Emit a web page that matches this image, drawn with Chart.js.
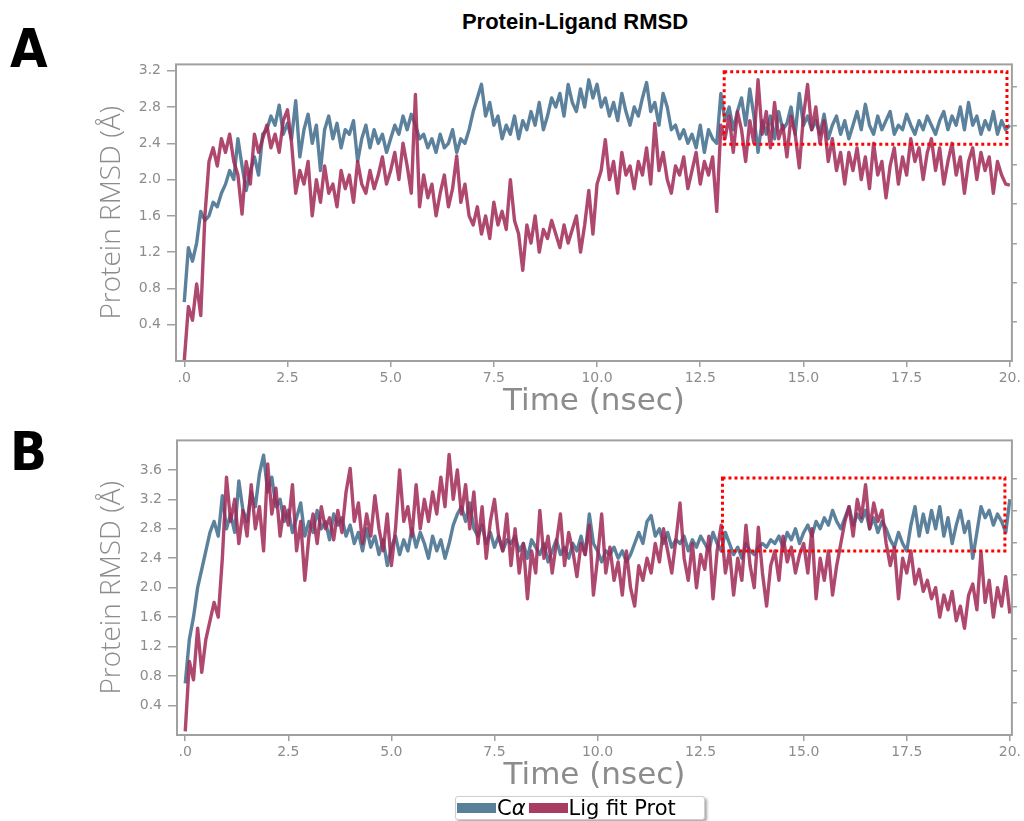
<!DOCTYPE html>
<html>
<head>
<meta charset="utf-8">
<script src="https://cdn.jsdelivr.net/npm/chart.js@4.4.1/dist/chart.umd.min.js"></script>
<style>
    body { margin: 0; background: #fff; width: 1024px; height: 821px; position: relative; overflow: hidden; }
    canvas { position: absolute; left: 0; }
    .panel-letter { position: absolute; left: 10px; font: bold 54px "Liberation Sans Narrow", "DejaVu Sans Condensed", sans-serif; color: #000; line-height: 1; }
    #title { position: absolute; left: 0; width: 1150px; top: 9px; text-align: center; font: bold 22px "Liberation Sans", Arial, sans-serif; color: #000; }
    #legend { position: absolute; left: 455px; top: 796px; height: 24px; width: 250px; box-sizing: border-box; border: 1px solid #cfcfcf; border-radius: 3px; box-shadow: 2px 2px 3px rgba(0,0,0,0.35); background: #fff; display: flex; align-items: center; font: 21px "DejaVu Sans", sans-serif; color: #000; }
    #legend .sw { display: inline-block; width: 39px; height: 10px; margin: 0 1px 0 1px; }
</style>
</head>
<body>
<div id="title">Protein-Ligand RMSD</div>
<div class="panel-letter" style="top:22px">A</div>
<div class="panel-letter" style="top:425px">B</div>
<canvas id="chartA" width="1024" height="370" style="top:50px"></canvas>
<canvas id="chartB" width="1024" height="368" style="top:426px"></canvas>
<div id="legend"><span class="sw" style="background:#5a7f99"></span><span>C<i>α</i></span><span class="sw" style="background:#a83c63;margin-left:3px"></span><span>Lig fit Prot</span></div>
<script>
// RMSD values, one value every 0.1 ns (0 .. 20 ns)
const STEP_NS = 0.1;

const caA = [
    0.65, 1.25, 1.1, 1.3, 1.65, 1.55, 1.6, 1.75, 1.7, 1.85,
    1.95, 2.1, 2.0, 2.45, 2.15, 1.88, 2.1, 2.25, 2.05, 2.5,
    2.55, 2.7, 2.6, 2.82, 2.5, 2.62, 2.45, 2.87, 2.25, 2.55,
    2.72, 2.4, 2.6, 2.1, 2.55, 2.7, 2.45, 2.62, 2.35, 2.55,
    2.5, 2.65, 2.2, 2.45, 2.6, 2.35, 2.55, 2.4, 2.5, 2.3,
    2.45, 2.6, 2.5, 2.7, 2.55, 2.72, 2.6, 2.45, 2.5, 2.35,
    2.45, 2.3, 2.5, 2.35, 2.4, 2.55, 2.3, 2.45, 2.4, 2.55,
    2.75, 2.9, 3.05, 2.7, 2.85, 2.6, 2.7, 2.45, 2.6, 2.5,
    2.7, 2.45, 2.65, 2.55, 2.75, 2.6, 2.85, 2.55, 2.7, 2.9,
    2.8, 2.95, 2.7, 3.05, 2.85, 2.75, 3.0, 2.8, 3.1, 2.9,
    3.05, 2.8, 2.9, 2.7, 2.85, 2.65, 2.95, 2.75, 2.6, 2.8,
    2.7, 2.9, 3.07, 2.75, 2.85, 2.6, 2.95, 2.8, 2.55, 2.6,
    2.45, 2.55, 2.4, 2.5, 2.35, 2.6, 2.3, 2.55, 2.45, 2.4,
    2.95, 2.65, 2.8, 2.55, 2.75, 2.9, 2.6, 3.0, 2.7, 2.3,
    2.65, 2.5, 2.7, 2.45, 2.75, 2.55, 2.62, 2.8, 2.5, 2.95,
    2.6, 2.7, 2.55, 2.65, 2.5, 2.72, 2.45, 2.6, 2.7, 2.5,
    2.65, 2.45, 2.6, 2.75, 2.55, 2.83, 2.6, 2.5, 2.7, 2.55,
    2.65, 2.75, 2.5, 2.6, 2.55, 2.72, 2.6, 2.5, 2.65, 2.55,
    2.7, 2.6, 2.5, 2.65, 2.75, 2.55, 2.7, 2.6, 2.8, 2.55,
    2.85, 2.6, 2.7, 2.5, 2.65, 2.55, 2.75, 2.5, 2.65, 2.55,
    2.6
];

const ligA = [
    0.0, 0.6, 0.45, 0.85, 0.5, 1.6, 2.2, 2.35, 2.15, 2.45,
    2.3, 2.5, 2.2, 2.05, 1.62, 2.2, 1.95, 2.5, 2.3, 2.45,
    2.6, 2.35, 2.5, 2.3, 2.65, 2.77, 2.4, 1.85, 2.1, 1.95,
    2.2, 1.6, 2.0, 1.75, 2.15, 1.85, 1.95, 1.7, 2.1, 1.9,
    2.05, 1.75, 2.2, 1.95, 1.85, 2.1, 1.9, 2.05, 2.25, 1.95,
    2.1, 2.3, 2.0, 2.4, 2.15, 1.85, 2.94, 1.7, 2.05, 1.8,
    1.95, 1.6, 1.85, 2.05, 1.7, 1.9, 2.26, 1.75, 1.95, 1.6,
    1.5, 1.7, 1.4, 1.6, 1.35, 1.75, 1.5, 1.65, 1.45, 2.0,
    1.55, 1.4, 1.0, 1.5, 1.3, 1.6, 1.2, 1.45, 1.35, 1.55,
    1.4, 1.25, 1.5, 1.3, 1.45, 1.6, 1.2, 1.5, 1.88, 1.4,
    1.95, 2.1, 2.44, 2.0, 2.2, 1.85, 2.3, 2.05, 2.15, 1.9,
    2.2, 2.05, 2.35, 1.95, 2.62, 2.1, 2.3, 2.0, 1.85, 2.15,
    2.05, 2.25, 1.9, 2.1, 2.3, 1.95, 2.2, 2.05, 2.25, 1.65,
    2.6, 2.45, 2.7, 2.3, 2.75, 2.55, 2.2, 2.65, 2.4, 3.1,
    2.5, 2.75, 2.35, 2.85, 2.45, 2.6, 2.25, 2.7, 2.5, 2.13,
    2.7, 3.05, 2.55, 2.8, 2.4, 2.65, 2.2, 2.45, 2.1, 2.3,
    1.95, 2.3, 2.1, 2.35, 2.0, 2.25, 1.9, 2.4, 2.05, 2.2,
    1.8, 2.15, 2.35, 1.95, 2.25, 2.05, 2.45, 2.2, 2.35, 2.0,
    2.3, 2.45, 2.1, 2.35, 1.95, 2.2, 2.4, 2.05, 2.25, 1.85,
    2.2, 2.35, 2.0, 2.3, 2.1, 2.25, 1.85, 2.2, 2.05, 1.95,
    1.94
];

const caB = [
    0.7, 1.3, 1.6, 2.0, 2.25, 2.5, 2.75, 2.9, 2.7, 3.25,
    2.8, 3.0, 2.75, 3.45, 3.05, 2.9, 3.3, 3.1, 3.55, 3.8,
    3.3, 3.5, 3.1, 3.2, 2.9, 3.05, 2.75, 2.95, 3.15, 2.7,
    2.9, 2.75, 3.05, 2.8, 2.9, 2.65, 3.0, 2.85, 2.95, 2.7,
    2.85, 2.6, 2.75, 2.5, 2.8, 2.55, 2.7, 2.45, 2.65, 2.3,
    2.55, 2.7, 2.45, 2.65, 2.5, 2.8, 2.55, 2.75, 2.6, 2.4,
    2.7, 2.5, 2.65, 2.4, 2.6, 2.85, 3.0, 3.1, 2.9, 3.15,
    2.8, 2.7, 2.85, 2.6, 2.75, 2.55, 2.7, 2.5, 2.65, 2.6,
    2.7, 2.5, 2.6, 2.4, 2.65, 2.55, 2.45, 2.6, 2.35, 2.5,
    2.65, 2.45, 2.55, 2.4, 2.6, 2.5, 2.7, 2.45, 3.0, 2.6,
    2.5, 2.35, 2.5, 2.45, 2.55, 2.4, 2.5, 2.35, 2.45, 2.6,
    2.75, 2.6, 2.9, 2.98, 2.7, 2.8, 2.6, 2.75, 2.55, 2.65,
    2.6, 2.7, 2.5, 2.65, 2.55, 2.7, 2.6, 2.5, 2.75, 2.6,
    2.5, 2.75, 2.6, 2.45, 2.55, 2.4, 2.6, 2.5, 2.45, 2.55,
    2.6, 2.55, 2.65, 2.6, 2.7, 2.55, 2.75, 2.65, 2.8, 2.6,
    2.75, 2.85, 2.7, 2.9, 2.8, 2.95, 2.85, 3.05, 2.9, 2.8,
    2.95, 3.1, 2.85, 3.0, 2.9, 3.05, 2.8, 2.95, 2.75, 2.9,
    2.8, 2.65, 2.55, 2.75, 2.6, 2.5, 2.85, 3.1, 2.7, 3.0,
    2.75, 3.05, 2.8, 3.1, 2.7, 2.95, 2.6, 2.85, 3.05, 2.75,
    2.9, 2.4, 2.75, 3.1, 2.95, 3.05, 2.85, 3.0, 2.9, 2.75,
    3.2
];

const ligB = [
    0.05, 1.0, 0.75, 1.45, 0.85, 1.3, 1.55, 1.8, 1.6, 2.4,
    3.5, 2.9, 3.2, 2.6, 3.05, 2.7, 3.4, 2.8, 3.1, 2.5,
    3.68, 3.0, 3.35, 2.7, 3.1, 2.85, 3.4, 2.5, 2.9, 2.1,
    2.7, 3.0, 2.6, 3.1, 2.8, 2.95, 2.65, 3.05, 2.75, 3.3,
    3.62, 2.9, 3.15, 2.6, 3.0, 2.7, 3.25, 2.8, 2.5, 3.0,
    2.3, 2.8, 3.6, 2.9, 3.1, 2.7, 3.4, 2.8, 3.2, 2.9,
    3.3, 3.0, 3.5, 3.1, 3.81, 3.2, 3.6, 3.0, 3.4, 2.8,
    3.3, 2.6, 3.1, 2.4, 2.9, 3.2, 2.7, 2.5, 3.0, 2.3,
    2.8, 2.2, 2.6, 1.85, 2.5, 2.2, 3.05, 2.4, 2.7, 2.2,
    2.6, 3.0, 2.3, 2.75, 2.5, 2.15, 2.6, 2.45, 2.85, 1.9,
    2.4, 3.0, 2.2, 2.55, 2.1, 2.35, 1.9, 2.5, 2.0, 1.75,
    2.3, 2.1, 2.4, 2.2, 2.6, 2.35, 2.8, 2.5, 2.2, 2.65,
    3.15, 2.4, 2.1, 2.6, 2.0, 2.45, 2.25, 2.7, 1.85, 2.5,
    2.85, 2.2, 2.5, 1.9, 2.4, 2.1, 2.85, 2.3, 2.0, 2.82,
    2.2, 1.75, 2.3, 2.5, 2.1, 2.7, 2.35, 2.55, 2.2, 2.45,
    2.6, 2.2, 2.8, 1.85, 2.4, 2.1, 2.5, 1.9, 2.3, 2.6,
    2.9, 3.1, 2.7, 3.2, 2.95, 3.4, 2.8, 3.15, 2.9, 3.05,
    2.6, 2.3, 2.55, 1.85, 2.4, 2.2, 2.5, 2.05, 2.25, 1.95,
    2.1, 1.85, 2.0, 1.6, 1.9, 1.7, 1.95, 1.55, 1.75, 1.45,
    1.9, 2.05, 1.7, 2.49, 1.8, 2.1, 1.6, 2.0, 1.75, 2.15,
    1.65
];

// axis ticks
const timeTicks = [0, 2.5, 5, 7.5, 10, 12.5, 15, 17.5, 20];
const rmsdTicksA = [0.4, 0.8, 1.2, 1.6, 2.0, 2.4, 2.8, 3.2];
const rmsdTicksB = [0.4, 0.8, 1.2, 1.6, 2.0, 2.4, 2.8, 3.2, 3.6];
const rightTicksA = [1, 2, 3, 4, 5, 6, 7];
const rightTicksB = [1, 2, 3, 4, 5, 6, 7, 8];

// highlighted region [t0, t1, rmsd0, rmsd1]
const boxA = [13.08, 19.93, 2.39, 3.19];
const boxB = [13.03, 19.88, 2.5, 3.49];

const timeNs = caA.map((_, i) => +(i * STEP_NS).toFixed(1));

const BLUE = 'rgba(78, 118, 148, 0.92)';
const RED = 'rgba(160, 40, 85, 0.85)';
const GREY = '#8c8c8c';
const FRAME = '#a0a0a0';

Chart.defaults.font.family = '"DejaVu Sans", sans-serif';
Chart.defaults.color = GREY;

// frame around the plot + red dotted highlight box
const framePlugin = {
    id: 'frame',
    afterDatasetsDraw(chart, args, opts) {
        const { ctx, chartArea: a, scales } = chart;
        ctx.save();
        ctx.strokeStyle = FRAME;
        ctx.lineWidth = 2;
        ctx.strokeRect(a.left, a.top, a.right - a.left, a.bottom - a.top);
        if (opts.box) {
            const [t0, t1, r0, r1] = opts.box;
            const x0 = scales.x.getPixelForValue(t0);
            const x1 = scales.x.getPixelForValue(t1);
            const y0 = scales.y.getPixelForValue(r1);
            const y1 = scales.y.getPixelForValue(r0);
            ctx.strokeStyle = '#ff0000';
            ctx.lineWidth = 3;
            ctx.setLineDash([3, 3]);
            ctx.strokeRect(x0, y0, x1 - x0, y1 - y0);
        }
        ctx.restore();
    }
};

function setTicks(values) {
    return scale => { scale.ticks = values.map(v => ({ value: v })); };
}

function makeChart(id, ca, lig, opts) {
    new Chart(document.getElementById(id), {
        type: 'line',
        data: {
            labels: timeNs,
            datasets: [
                { label: 'Cα', data: ca, borderColor: BLUE, order: 2 },
                { label: 'Lig fit Prot', data: lig, borderColor: RED, order: 1 }
            ]
        },
        options: {
            responsive: false,
            animation: false,
            devicePixelRatio: 1,
            layout: { padding: { top: 7, left: 0, right: 0, bottom: 0 } },
            elements: {
                line: { borderWidth: 3.4, tension: 0, fill: false, borderJoinStyle: 'round' },
                point: { radius: 0 }
            },
            plugins: {
                legend: { display: false },
                tooltip: { enabled: false },
                frame: { box: opts.box }
            },
            scales: {
                x: {
                    type: 'linear',
                    min: -0.2,
                    max: 20.05,
                    afterBuildTicks: setTicks(timeTicks),
                    afterFit: s => { s.height = 59; },
                    grid: { drawOnChartArea: false, tickLength: 6, color: FRAME, lineWidth: 1.5 },
                    border: { display: false },
                    ticks: {
                        padding: 3,
                        font: { size: 14 },
                        maxRotation: 0,
                        callback: v => v === 0 ? '.0' : (v === 20 ? '20.' : v.toFixed(1))
                    },
                    title: {
                        display: true,
                        text: 'Time (nsec)',
                        color: GREY,
                        font: { size: 31, lineHeight: 1 },
                        padding: { top: 0, bottom: 3 }
                    }
                },
                y: {
                    min: 0,
                    max: opts.yMax,
                    afterBuildTicks: setTicks(opts.yTicks),
                    afterFit: s => { s.width = opts.leftWidth; },
                    grid: { drawOnChartArea: false, tickLength: 9, color: FRAME, lineWidth: 1.5 },
                    border: { display: false },
                    ticks: { padding: 6, font: { size: 14 }, callback: v => v.toFixed(1) },
                    title: {
                        display: true,
                        text: 'Protein RMSD (Å)',
                        color: GREY,
                        font: { family: '"Open Sans", sans-serif', size: 28, weight: 300, lineHeight: 1 },
                        padding: { top: 98, bottom: 0 }
                    }
                },
                y2: {
                    position: 'right',
                    min: 0,
                    max: opts.rightMax,
                    afterBuildTicks: setTicks(opts.rightTicks),
                    afterFit: s => { s.width = opts.rightWidth; },
                    grid: { drawOnChartArea: false, tickLength: 5, color: FRAME, lineWidth: 1.5 },
                    border: { display: false },
                    ticks: { display: false }
                }
            }
        },
        plugins: [framePlugin]
    });
}

makeChart('chartA', caA, ligA, {
    yMax: 3.27, yTicks: rmsdTicksA, rightMax: 7.56, rightTicks: rightTicksA,
    leftWidth: 176, rightWidth: 9, box: boxA
});

makeChart('chartB', caB, ligB, {
    yMax: 4.0, yTicks: rmsdTicksB, rightMax: 9.18, rightTicks: rightTicksB,
    leftWidth: 177, rightWidth: 7, box: boxB
});
</script>
</body>
</html>
